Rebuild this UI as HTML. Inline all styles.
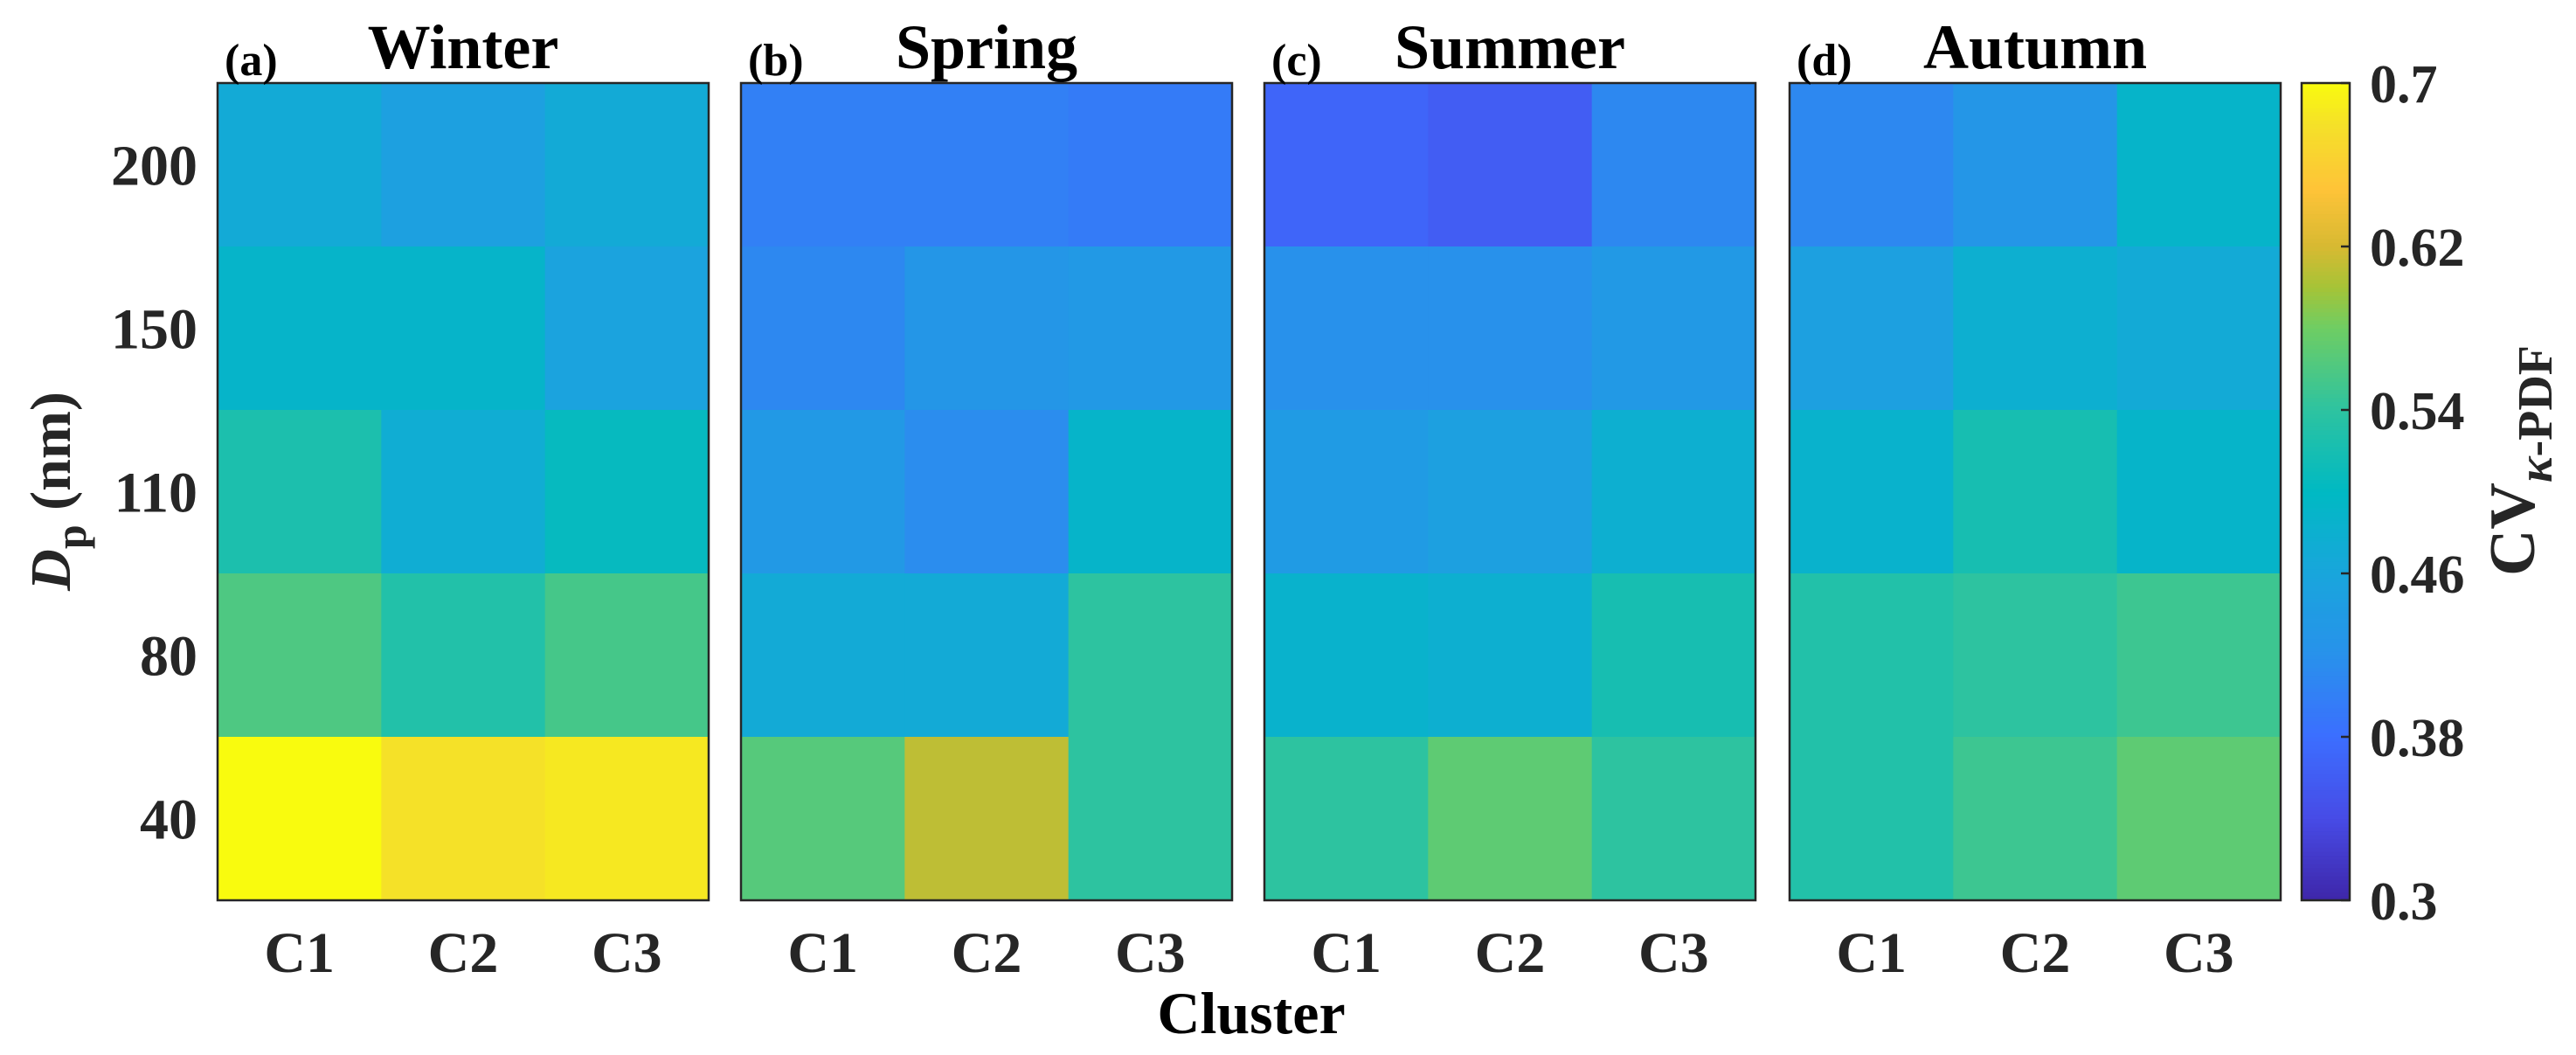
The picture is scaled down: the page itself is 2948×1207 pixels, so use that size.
<!DOCTYPE html>
<html><head><meta charset="utf-8"><style>
html,body{margin:0;padding:0;background:#fff;}
svg{display:block;font-family:"Liberation Serif",serif;font-weight:bold;}
</style></head><body>
<svg id="chart" width="2948" height="1207" viewBox="0 0 2948 1207" xmlns="http://www.w3.org/2000/svg">
<g id="panels"></g>
<g id="cbar"></g>
<text transform="translate(80,562) rotate(-90)" text-anchor="middle" font-size="66" fill="#262626"><tspan font-style="italic">D</tspan><tspan font-size="50" dy="18">p</tspan><tspan dy="-18"> (nm)</tspan></text>
<text x="1432" y="1182" text-anchor="middle" font-size="68" fill="#000">Cluster</text>
<text transform="translate(2900,527) rotate(-90)" text-anchor="middle" font-size="74" fill="#262626">CV<tspan font-size="56" dy="20"><tspan font-style="italic">κ</tspan>-PDF</tspan></text>
</svg>
<script>
const seasons = ["Winter","Spring","Summer","Autumn"];
const panelLetters = ["(a)","(b)","(c)","(d)"];
const clusters = ["C1","C2","C3"];
const sizes = ["200","150","110","80","40"];
const winter = [[0.47,0.45,0.47],[0.49,0.49,0.455],[0.525,0.475,0.505],[0.56,0.53,0.555],[0.70,0.68,0.685]];
const spring = [[0.40,0.40,0.395],[0.41,0.43,0.435],[0.435,0.415,0.49],[0.47,0.47,0.54],[0.565,0.61,0.54]];
const summer = [[0.37,0.36,0.41],[0.42,0.42,0.435],[0.44,0.45,0.48],[0.485,0.48,0.52],[0.54,0.57,0.54]];
const autumn = [[0.41,0.43,0.49],[0.45,0.48,0.47],[0.485,0.52,0.49],[0.53,0.54,0.55],[0.53,0.55,0.57]];
const cbarTicks = [0.3,0.38,0.46,0.54,0.62,0.7];
const cbarTickLabels = ["0.3","0.38","0.46","0.54","0.62","0.7"];
const cmin = 0.3, cmax = 0.7;

const NS="http://www.w3.org/2000/svg";
const stops=[[0,62,38,168],[0.1,71,75,230],[0.2,60,110,255],[0.3,40,145,235],[0.4,25,165,220],[0.5,0,185,195],[0.6,45,195,160],[0.7,110,205,100],[0.75,165,195,55],[0.8,215,185,50],[0.87,254,195,56],[0.95,245,225,40],[1,249,251,14]];
function parula(v){
  let t=Math.max(0,Math.min(1,(v-cmin)/(cmax-cmin)));
  for(let i=1;i<stops.length;i++){
    if(t<=stops[i][0]){const a=stops[i-1],b=stops[i],f=(t-a[0])/(b[0]-a[0]);
      return `rgb(${Math.round(a[1]+f*(b[1]-a[1]))},${Math.round(a[2]+f*(b[2]-a[2]))},${Math.round(a[3]+f*(b[3]-a[3]))})`;}
  }
  return "rgb(249,251,14)";
}
function mk(tag,attrs,parent){const e=document.createElementNS(NS,tag);for(const k in attrs)e.setAttribute(k,attrs[k]);parent.appendChild(e);return e;}
const plotTop=95,plotBottom=1030,pw=562,gapX=[249,848,1447,2048];
const rowH=(plotBottom-plotTop)/sizes.length, colW=pw/clusters.length;
const data=[winter,spring,summer,autumn];
const panels=document.getElementById("panels");
data.forEach((m,p)=>{
  const g=mk("g",{},panels);
  
  
  const x0=gapX[p];
  m.forEach((row,r)=>row.forEach((v,c)=>{
    const cell=mk("rect",{x:x0+c*colW,y:plotTop+r*rowH,width:colW+0.5,height:rowH+0.5,fill:parula(v)},g);
    
    
  }));
  const b=mk("rect",{x:x0,y:plotTop,width:pw,height:plotBottom-plotTop,fill:"none",stroke:"#262626","stroke-width":2.5},g);
  
  
  clusters.forEach((cl,c)=>{
    const t=mk("text",{x:x0+(c+0.5)*colW,y:1112,"text-anchor":"middle","font-size":66,fill:"#262626"},g);
    t.textContent=cl;
    
    
  });
  const tt=mk("text",{x:x0+281,y:78,"text-anchor":"middle","font-size":72,fill:"#000"},g);
  tt.textContent=seasons[p];
  
  
  const pl=mk("text",{x:x0+8,y:86,"font-size":52,fill:"#000"},g);
  pl.textContent=panelLetters[p];
  
  
});
sizes.forEach((s,r)=>{
  const t=mk("text",{x:226,y:plotTop+(r+0.5)*rowH+23,"text-anchor":"end","font-size":66,fill:"#262626"},panels);
  t.textContent=s;
  
  
});
const cb=document.getElementById("cbar");
const cbx=2634,cbw=55;
const N=200;
for(let i=0;i<N;i++){
  const v=cmin+(i+0.5)/N*(cmax-cmin);
  const y=plotBottom-(i+1)/N*(plotBottom-plotTop);
  mk("rect",{x:cbx,y:y,width:cbw,height:(plotBottom-plotTop)/N+0.6,fill:parula(v)},cb);
}
mk("rect",{x:cbx,y:plotTop,width:cbw,height:plotBottom-plotTop,fill:"none",stroke:"#262626","stroke-width":2.5},cb);
cbarTicks.forEach((v,i)=>{
  const y=plotBottom-(v-cmin)/(cmax-cmin)*(plotBottom-plotTop);
  mk("line",{x1:cbx+cbw-10,x2:cbx+cbw,y1:y,y2:y,stroke:"#262626","stroke-width":2.5},cb);
  const t=mk("text",{x:2712,y:y+22,"font-size":62,fill:"#262626"},cb);
  t.textContent=cbarTickLabels[i];
  
  
});
</script>
</body></html>
